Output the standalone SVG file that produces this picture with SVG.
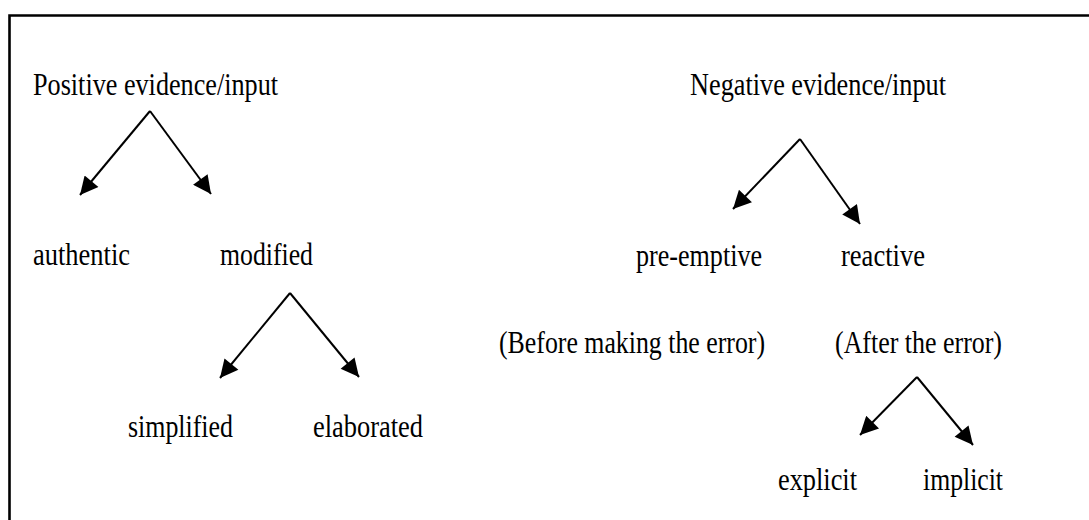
<svg xmlns="http://www.w3.org/2000/svg" width="1089" height="520" viewBox="0 0 1089 520">
<style>
text{font-family:"Liberation Serif","Times New Roman",serif;font-size:31px;fill:#000}
.c{stroke:#000;stroke-width:2;fill:none}
</style>
<defs>
<marker id="ah" viewBox="0 0 10 10" refX="10" refY="5" markerUnits="userSpaceOnUse" markerWidth="21" markerHeight="18" orient="auto">
<path d="M0,0 L10,5 L0,10 z" fill="#000"/>
</marker>
</defs>
<rect width="1089" height="520" fill="#fff"/>
<path d="M9.5,520 V15.5 H1089" fill="none" stroke="#000" stroke-width="2.6"/>
<g id="connectors">
<path class="c" marker-end="url(#ah)" d="M150,111 L80,195"/>
<path class="c" marker-end="url(#ah)" d="M150,111 L211,194"/>
<path class="c" marker-end="url(#ah)" d="M290,293 L220,378"/>
<path class="c" marker-end="url(#ah)" d="M290,293 L359,377"/>
<path class="c" marker-end="url(#ah)" d="M800,139 L733,209"/>
<path class="c" marker-end="url(#ah)" d="M800,139 L860,224"/>
<path class="c" marker-end="url(#ah)" d="M917,377 L860,435"/>
<path class="c" marker-end="url(#ah)" d="M917,377 L973,445"/>
</g>
<g id="positive"><text x="33" y="95" textLength="245" lengthAdjust="spacingAndGlyphs">Positive evidence/input</text></g>
<g id="negative"><text x="690" y="95" textLength="256" lengthAdjust="spacingAndGlyphs">Negative evidence/input</text></g>
<g id="authentic"><text x="33" y="265" textLength="97" lengthAdjust="spacingAndGlyphs">authentic</text></g>
<g id="modified"><text x="220" y="265" textLength="93" lengthAdjust="spacingAndGlyphs">modified</text></g>
<g id="pre-emptive"><text x="636" y="266" textLength="126" lengthAdjust="spacingAndGlyphs">pre-emptive</text></g>
<g id="reactive"><text x="841" y="266" textLength="84" lengthAdjust="spacingAndGlyphs">reactive</text></g>
<g id="before"><text x="499" y="353" textLength="266" lengthAdjust="spacingAndGlyphs">(Before making the error)</text></g>
<g id="after"><text x="835" y="353" textLength="167" lengthAdjust="spacingAndGlyphs">(After the error)</text></g>
<g id="simplified"><text x="128" y="437" textLength="105" lengthAdjust="spacingAndGlyphs">simplified</text></g>
<g id="elaborated"><text x="313" y="437" textLength="110" lengthAdjust="spacingAndGlyphs">elaborated</text></g>
<g id="explicit"><text x="778" y="490" textLength="79" lengthAdjust="spacingAndGlyphs">explicit</text></g>
<g id="implicit"><text x="923" y="490" textLength="80" lengthAdjust="spacingAndGlyphs">implicit</text></g>
</svg>
